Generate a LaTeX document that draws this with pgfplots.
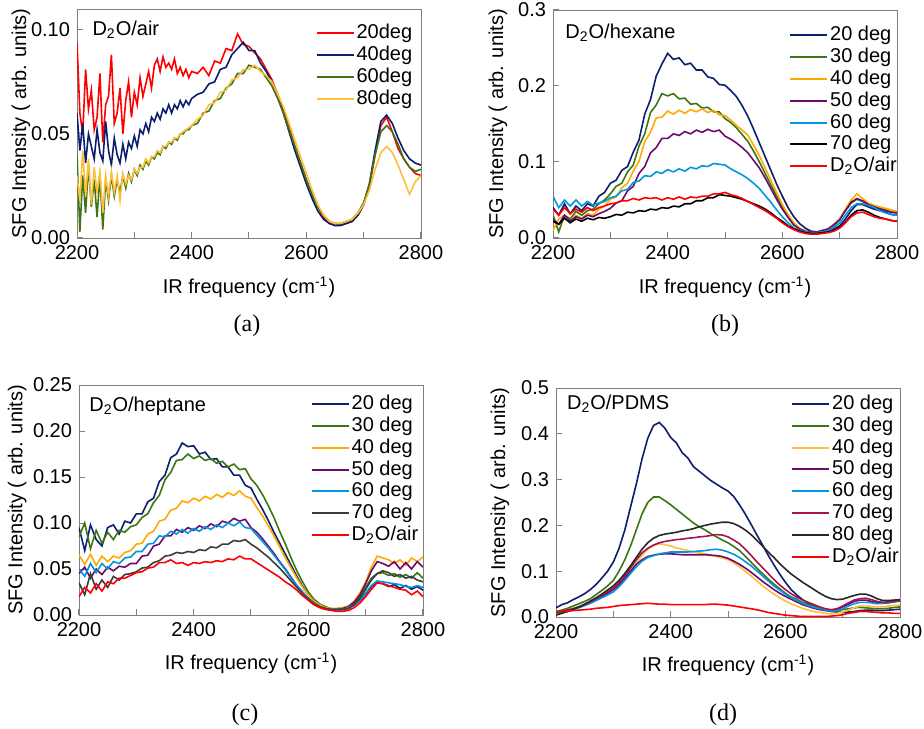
\documentclass[border=0pt]{standalone}
\usepackage{fontspec}
\setmainfont{Liberation Sans}
\newfontfamily\capfont{Liberation Serif}
\usepackage{pgfplots}
\usepackage{pgfplotstable}
\pgfplotsset{compat=1.18}

\definecolor{cRed}{RGB}{255,0,0}
\definecolor{cNavy}{RGB}{12,30,110}
\definecolor{cGreen}{RGB}{60,118,20}
\definecolor{cOrange}{RGB}{255,170,0}
\definecolor{cYellow}{RGB}{255,190,60}
\definecolor{cPurple}{RGB}{110,10,110}
\definecolor{cCyan}{RGB}{0,150,225}
\definecolor{cGray}{RGB}{60,60,60}
\definecolor{cCrimson}{RGB}{165,20,80}
\definecolor{cDark}{RGB}{40,40,40}

% D2O/air, four incidence angles
\pgfplotstableread{
f    a20    a40    a60    a80
2200 0.094  0.060  0.040  0.030
2205 0.060  0.042  0.003  0.018
2210 0.050  0.055  0.030  0.042
2215 0.081  0.036  0.012  0.020
2220 0.062  0.050  0.035  0.038
2225 0.071  0.044  0.015  0.016
2230 0.052  0.038  0.028  0.034
2235 0.058  0.052  0.010  0.022
2240 0.079  0.041  0.030  0.032
2245 0.046  0.037  0.004  0.012
2250 0.064  0.056  0.028  0.030
2255 0.068  0.042  0.018  0.020
2260 0.088  0.035  0.030  0.032
2265 0.055  0.048  0.020  0.022
2270 0.060  0.040  0.028  0.030
2275 0.072  0.036  0.022  0.018
2280 0.050  0.045  0.030  0.031
2285 0.066  0.038  0.024  0.026
2290 0.075  0.046  0.031  0.030
2295 0.058  0.043  0.027  0.028
2300 0.070  0.049  0.033  0.033
2305 0.064  0.044  0.030  0.031
2310 0.077  0.052  0.035  0.034
2315 0.068  0.050  0.033  0.034
2320 0.074  0.055  0.037  0.038
2325 0.080  0.051  0.035  0.036
2330 0.072  0.058  0.039  0.039
2335 0.083  0.056  0.038  0.039
2340 0.086  0.060  0.041  0.042
2345 0.080  0.057  0.040  0.041
2350 0.087  0.062  0.044  0.044
2355 0.082  0.060  0.043  0.044
2360 0.084  0.064  0.046  0.046
2365 0.081  0.060  0.045  0.046
2370 0.086  0.064  0.048  0.048
2375 0.079  0.062  0.047  0.048
2380 0.082  0.066  0.050  0.050
2385 0.078  0.063  0.050  0.051
2390 0.081  0.066  0.052  0.052
2395 0.077  0.064  0.052  0.053
2400 0.080  0.067  0.054  0.054
2410 0.079  0.069  0.055  0.057
2420 0.082  0.070  0.060  0.059
2430 0.078  0.074  0.061  0.064
2440 0.085  0.075  0.066  0.065
2450 0.084  0.081  0.067  0.070
2460 0.091  0.082  0.072  0.071
2470 0.090  0.088  0.074  0.076
2480 0.098  0.091  0.079  0.077
2490 0.093  0.094  0.079  0.081
2500 0.092  0.090  0.083  0.081
2510 0.089  0.090  0.082  0.083
2520 0.086  0.084  0.081  0.080
2530 0.081  0.080  0.077  0.078
2540 0.076  0.075  0.073  0.075
2550 0.069  0.068  0.067  0.069
2560 0.062  0.060  0.060  0.063
2570 0.053  0.051  0.052  0.055
2580 0.044  0.042  0.044  0.047
2590 0.036  0.034  0.036  0.039
2600 0.028  0.026  0.028  0.031
2610 0.021  0.019  0.021  0.023
2620 0.015  0.013  0.015  0.016
2630 0.010  0.009  0.011  0.011
2640 0.007  0.007  0.008  0.008
2650 0.006  0.006  0.007  0.007
2660 0.0065 0.006  0.007  0.007
2670 0.007  0.007  0.008  0.008
2680 0.008  0.008  0.009  0.009
2690 0.011  0.011  0.012  0.012
2700 0.016  0.016  0.017  0.016
2710 0.025  0.026  0.026  0.023
2720 0.040  0.042  0.040  0.033
2730 0.054  0.056  0.051  0.041
2740 0.058  0.059  0.054  0.044
2750 0.051  0.055  0.051  0.041
2760 0.043  0.048  0.045  0.035
2770 0.038  0.042  0.038  0.028
2780 0.034  0.038  0.034  0.021
2790 0.031  0.036  0.032  0.027
2800 0.030  0.035  0.033  0.030
}\tabA

% D2O/hexane
\pgfplotstableread{
f    b20   b30   b40   b50   b60   b70   bair
2200 0.040 0.030 0.010 0.025 0.055 0.022 0.038
2210 0.030 0.008 0.025 0.018 0.040 0.018 0.030
2220 0.045 0.030 0.030 0.030 0.050 0.026 0.040
2230 0.032 0.025 0.022 0.022 0.042 0.020 0.032
2240 0.042 0.035 0.030 0.028 0.050 0.025 0.038
2250 0.036 0.030 0.026 0.025 0.042 0.022 0.034
2260 0.045 0.036 0.032 0.030 0.048 0.026 0.040
2270 0.042 0.038 0.030 0.028 0.043 0.024 0.036
2280 0.055 0.045 0.038 0.032 0.046 0.027 0.040
2290 0.060 0.050 0.042 0.035 0.048 0.026 0.042
2300 0.072 0.058 0.051 0.039 0.053 0.028 0.045
2310 0.076 0.068 0.054 0.046 0.055 0.031 0.046
2320 0.089 0.072 0.066 0.049 0.062 0.030 0.049
2330 0.094 0.087 0.072 0.062 0.064 0.034 0.049
2340 0.113 0.096 0.088 0.068 0.073 0.033 0.052
2350 0.129 0.121 0.101 0.085 0.075 0.036 0.050
2360 0.163 0.137 0.127 0.094 0.082 0.035 0.053
2370 0.182 0.165 0.139 0.112 0.081 0.038 0.052
2380 0.213 0.175 0.158 0.119 0.087 0.037 0.053
2390 0.229 0.190 0.159 0.131 0.085 0.040 0.050
2400 0.243 0.187 0.167 0.131 0.090 0.039 0.053
2410 0.235 0.190 0.163 0.137 0.087 0.042 0.051
2420 0.237 0.183 0.168 0.135 0.091 0.041 0.054
2430 0.228 0.184 0.164 0.140 0.088 0.045 0.051
2440 0.230 0.176 0.169 0.137 0.093 0.045 0.054
2450 0.221 0.177 0.166 0.142 0.091 0.049 0.053
2460 0.221 0.171 0.170 0.139 0.095 0.049 0.055
2470 0.212 0.172 0.165 0.143 0.094 0.053 0.055
2480 0.210 0.166 0.168 0.140 0.098 0.053 0.058
2490 0.202 0.166 0.162 0.142 0.097 0.057 0.058
2500 0.201 0.157 0.161 0.134 0.096 0.056 0.060
2510 0.194 0.152 0.155 0.130 0.091 0.055 0.057
2520 0.186 0.145 0.148 0.125 0.087 0.053 0.055
2530 0.174 0.136 0.142 0.119 0.083 0.051 0.052
2540 0.160 0.127 0.135 0.112 0.078 0.048 0.048
2550 0.143 0.114 0.122 0.102 0.072 0.045 0.044
2560 0.125 0.100 0.108 0.092 0.065 0.042 0.040
2570 0.107 0.085 0.092 0.079 0.056 0.038 0.036
2580 0.089 0.070 0.076 0.065 0.047 0.033 0.031
2590 0.071 0.055 0.060 0.051 0.037 0.027 0.026
2600 0.055 0.040 0.044 0.038 0.028 0.022 0.020
2610 0.040 0.028 0.031 0.027 0.020 0.016 0.015
2620 0.028 0.018 0.020 0.017 0.013 0.012 0.011
2630 0.019 0.011 0.013 0.012 0.010 0.009 0.008
2640 0.013 0.007 0.009 0.009 0.008 0.007 0.006
2650 0.009 0.005 0.007 0.008 0.007 0.006 0.005
2660 0.008 0.006 0.007 0.008 0.007 0.006 0.005
2670 0.008 0.008 0.009 0.010 0.008 0.007 0.006
2680 0.010 0.012 0.012 0.012 0.010 0.008 0.007
2690 0.012 0.018 0.017 0.017 0.014 0.010 0.009
2700 0.016 0.025 0.025 0.024 0.020 0.014 0.013
2710 0.025 0.036 0.038 0.036 0.030 0.021 0.020
2720 0.036 0.046 0.050 0.047 0.040 0.030 0.028
2730 0.044 0.051 0.058 0.052 0.045 0.036 0.033
2740 0.044 0.048 0.052 0.049 0.045 0.037 0.034
2750 0.041 0.044 0.046 0.044 0.043 0.034 0.031
2760 0.038 0.041 0.043 0.041 0.040 0.030 0.028
2770 0.036 0.039 0.041 0.038 0.036 0.027 0.026
2780 0.034 0.037 0.039 0.036 0.033 0.025 0.025
2790 0.031 0.034 0.037 0.034 0.031 0.023 0.023
2800 0.030 0.033 0.035 0.033 0.030 0.022 0.022
}\tabB

% D2O/heptane
\pgfplotstableread{
f    c20   c30   c40   c50   c60   c70   cair
2200 0.095 0.085 0.065 0.045 0.050 0.035 0.020
2210 0.070 0.100 0.055 0.052 0.042 0.022 0.030
2220 0.098 0.072 0.066 0.040 0.056 0.045 0.024
2230 0.082 0.092 0.054 0.050 0.046 0.028 0.034
2240 0.075 0.078 0.064 0.044 0.056 0.038 0.026
2250 0.095 0.090 0.058 0.052 0.050 0.030 0.036
2260 0.098 0.082 0.064 0.048 0.058 0.042 0.034
2270 0.088 0.092 0.062 0.053 0.056 0.038 0.040
2280 0.102 0.090 0.068 0.052 0.062 0.044 0.040
2290 0.100 0.096 0.070 0.056 0.063 0.045 0.043
2300 0.110 0.098 0.077 0.056 0.069 0.047 0.046
2310 0.110 0.106 0.078 0.064 0.069 0.051 0.047
2320 0.123 0.110 0.088 0.065 0.077 0.052 0.051
2330 0.127 0.122 0.091 0.075 0.078 0.057 0.052
2340 0.145 0.130 0.102 0.077 0.086 0.059 0.057
2350 0.152 0.147 0.104 0.086 0.085 0.064 0.057
2360 0.171 0.155 0.114 0.086 0.091 0.065 0.060
2370 0.175 0.168 0.116 0.093 0.088 0.068 0.056
2380 0.187 0.169 0.124 0.090 0.093 0.067 0.057
2390 0.183 0.175 0.122 0.095 0.089 0.069 0.054
2400 0.184 0.170 0.127 0.092 0.094 0.068 0.057
2410 0.175 0.173 0.124 0.097 0.091 0.071 0.056
2420 0.177 0.168 0.129 0.094 0.096 0.070 0.058
2430 0.169 0.170 0.126 0.099 0.093 0.074 0.057
2440 0.170 0.165 0.131 0.096 0.098 0.073 0.059
2450 0.161 0.167 0.128 0.102 0.095 0.077 0.058
2460 0.161 0.161 0.133 0.100 0.100 0.077 0.061
2470 0.152 0.164 0.130 0.105 0.097 0.081 0.060
2480 0.152 0.158 0.135 0.102 0.101 0.080 0.064
2490 0.141 0.159 0.129 0.104 0.095 0.082 0.061
2500 0.138 0.148 0.127 0.095 0.094 0.077 0.061
2510 0.126 0.141 0.117 0.090 0.087 0.073 0.057
2520 0.115 0.131 0.108 0.083 0.080 0.068 0.053
2530 0.103 0.119 0.097 0.075 0.073 0.063 0.049
2540 0.090 0.106 0.086 0.067 0.065 0.057 0.045
2550 0.078 0.091 0.074 0.058 0.057 0.051 0.041
2560 0.066 0.077 0.062 0.050 0.049 0.044 0.036
2570 0.054 0.062 0.051 0.041 0.040 0.037 0.032
2580 0.042 0.048 0.040 0.032 0.032 0.030 0.027
2590 0.031 0.036 0.030 0.025 0.025 0.023 0.021
2600 0.022 0.025 0.022 0.018 0.018 0.017 0.016
2610 0.015 0.017 0.015 0.013 0.013 0.012 0.011
2620 0.010 0.012 0.011 0.009 0.009 0.009 0.008
2630 0.007 0.009 0.008 0.007 0.007 0.007 0.006
2640 0.006 0.007 0.007 0.006 0.006 0.006 0.005
2650 0.006 0.007 0.007 0.006 0.006 0.006 0.004
2660 0.006 0.008 0.008 0.007 0.006 0.006 0.004
2670 0.008 0.009 0.010 0.009 0.008 0.007 0.005
2680 0.011 0.013 0.015 0.014 0.011 0.011 0.008
2690 0.016 0.020 0.024 0.022 0.016 0.018 0.013
2700 0.023 0.030 0.036 0.034 0.024 0.028 0.020
2710 0.031 0.040 0.052 0.048 0.032 0.038 0.028
2720 0.035 0.045 0.064 0.058 0.037 0.045 0.035
2730 0.034 0.046 0.062 0.056 0.036 0.048 0.034
2740 0.031 0.043 0.060 0.053 0.035 0.046 0.032
2750 0.033 0.045 0.056 0.058 0.034 0.042 0.030
2760 0.029 0.041 0.060 0.050 0.033 0.044 0.028
2770 0.032 0.044 0.054 0.057 0.031 0.040 0.027
2780 0.028 0.040 0.062 0.050 0.030 0.042 0.022
2790 0.031 0.046 0.058 0.058 0.032 0.038 0.026
2800 0.027 0.040 0.063 0.052 0.030 0.036 0.020
}\tabC

% D2O/PDMS
\pgfplotstableread{
f    d20   d30   d40   d50   d60   d70   d80   dair
2200 0.020 0.012 0.010 0.010 0.008 0.010 0.004 0.010
2210 0.027 0.015 0.012 0.012 0.010 0.012 0.008 0.012
2220 0.031 0.019 0.015 0.015 0.012 0.015 0.012 0.013
2230 0.038 0.024 0.018 0.018 0.016 0.018 0.017 0.014
2240 0.044 0.029 0.022 0.022 0.020 0.022 0.022 0.015
2250 0.051 0.034 0.027 0.027 0.025 0.027 0.028 0.016
2260 0.060 0.040 0.032 0.032 0.030 0.033 0.035 0.017
2270 0.071 0.049 0.038 0.038 0.036 0.040 0.042 0.019
2280 0.085 0.058 0.045 0.045 0.042 0.047 0.050 0.020
2290 0.100 0.068 0.052 0.052 0.048 0.055 0.059 0.021
2300 0.120 0.080 0.060 0.060 0.055 0.063 0.068 0.023
2310 0.150 0.100 0.071 0.071 0.066 0.075 0.080 0.025
2320 0.190 0.125 0.085 0.085 0.080 0.090 0.095 0.026
2330 0.240 0.155 0.100 0.100 0.095 0.107 0.112 0.027
2340 0.290 0.190 0.118 0.115 0.110 0.125 0.130 0.028
2350 0.345 0.225 0.135 0.125 0.122 0.140 0.148 0.029
2360 0.390 0.250 0.148 0.132 0.130 0.150 0.162 0.030
2370 0.418 0.262 0.156 0.135 0.134 0.157 0.172 0.029
2380 0.425 0.262 0.160 0.137 0.138 0.162 0.178 0.028
2390 0.412 0.254 0.158 0.138 0.140 0.165 0.181 0.028
2400 0.392 0.245 0.155 0.138 0.142 0.167 0.183 0.027
2410 0.380 0.235 0.151 0.137 0.142 0.169 0.185 0.027
2420 0.359 0.225 0.148 0.136 0.142 0.170 0.188 0.027
2430 0.347 0.215 0.145 0.136 0.142 0.172 0.190 0.027
2440 0.328 0.205 0.142 0.136 0.143 0.173 0.193 0.027
2450 0.318 0.197 0.140 0.136 0.144 0.175 0.197 0.027
2460 0.308 0.190 0.138 0.136 0.145 0.176 0.200 0.027
2470 0.298 0.182 0.135 0.135 0.147 0.178 0.203 0.028
2480 0.290 0.175 0.132 0.134 0.148 0.180 0.205 0.028
2490 0.282 0.168 0.129 0.132 0.146 0.179 0.207 0.027
2500 0.275 0.162 0.125 0.128 0.142 0.175 0.207 0.026
2510 0.263 0.154 0.118 0.122 0.137 0.168 0.204 0.024
2520 0.245 0.145 0.110 0.115 0.130 0.160 0.198 0.022
2530 0.225 0.133 0.100 0.107 0.121 0.148 0.190 0.020
2540 0.203 0.120 0.090 0.098 0.112 0.135 0.180 0.018
2550 0.180 0.107 0.079 0.088 0.101 0.121 0.168 0.016
2560 0.158 0.095 0.068 0.078 0.090 0.108 0.155 0.013
2570 0.135 0.083 0.059 0.069 0.079 0.095 0.142 0.010
2580 0.114 0.072 0.050 0.060 0.068 0.082 0.130 0.008
2590 0.094 0.062 0.042 0.052 0.059 0.070 0.117 0.006
2600 0.076 0.052 0.035 0.045 0.050 0.060 0.105 0.004
2610 0.060 0.044 0.029 0.039 0.042 0.051 0.094 0.003
2620 0.048 0.038 0.024 0.033 0.036 0.043 0.085 0.002
2630 0.038 0.032 0.019 0.027 0.030 0.037 0.076 0.001
2640 0.030 0.027 0.015 0.023 0.025 0.032 0.068 0.001
2650 0.024 0.023 0.012 0.019 0.021 0.027 0.060 0.001
2660 0.019 0.019 0.010 0.016 0.018 0.022 0.052 0.001
2670 0.015 0.016 0.008 0.014 0.015 0.018 0.045 0.001
2680 0.012 0.014 0.007 0.013 0.013 0.016 0.040 0.002
2690 0.011 0.014 0.008 0.016 0.014 0.018 0.038 0.003
2700 0.010 0.016 0.011 0.022 0.018 0.024 0.039 0.005
2710 0.011 0.018 0.015 0.028 0.024 0.031 0.043 0.008
2720 0.012 0.020 0.020 0.034 0.029 0.037 0.047 0.010
2730 0.014 0.021 0.024 0.037 0.032 0.040 0.050 0.012
2740 0.015 0.020 0.025 0.037 0.032 0.041 0.050 0.012
2750 0.015 0.019 0.023 0.034 0.031 0.038 0.046 0.011
2760 0.014 0.018 0.022 0.031 0.029 0.034 0.040 0.010
2770 0.014 0.018 0.022 0.030 0.030 0.032 0.036 0.009
2780 0.015 0.019 0.024 0.031 0.032 0.033 0.036 0.009
2790 0.016 0.021 0.025 0.033 0.034 0.035 0.037 0.008
2800 0.017 0.022 0.026 0.035 0.036 0.036 0.038 0.008
}\tabD

\pgfplotsset{
  sfg/.style={
    scale only axis, width=172pt, height=114.5pt,
    xmin=2200, xmax=2800, ymin=0,
    xtick={2200,2400,2600,2800}, minor xtick={2300,2500,2700},
    tick pos=left, tick align=inside,
    axis line style={draw=black!50},
    every tick/.style={draw=black!50, line width=0.5pt},
    major tick length=3pt, minor tick length=3pt,
    scaled y ticks=false,
    /pgf/number format/assume math mode=true,
    /pgf/number format/1000 sep={},
    ticklabel style={font=\fontsize{10}{12}\selectfont},
    label style={font=\fontsize{10}{12}\selectfont},
    xlabel={IR frequency (cm\textsuperscript{-1})},
    ylabel={SFG Intensity ( arb. units)},
    xlabel style={at={(axis description cs:0.5,0)}, anchor=center, yshift=-24.5pt},
    every axis plot/.append style={line width=0.8pt},
    no markers,
    legend cell align=left,
    legend image code/.code={\draw[#1, line width=1pt] (0pt,0pt) -- (18.5pt,0pt);},
    legend style={draw=none, fill=none, anchor=north west,
      font=\fontsize{10}{12}\selectfont, row sep=0pt, column sep=0.5pt,
      nodes={inner sep=0.5pt, text height=7.7pt, text depth=2.2pt}},
  },
  yfmt/.style={yticklabel style={/pgf/number format/.cd, fixed, fixed zerofill, precision=#1}},
  ylab/.style={ylabel style={at={(axis description cs:#1,0.5)}, anchor=center}},
}
\tikzset{
  paneltag/.style={anchor=base west, inner sep=0pt, font=\fontsize{10}{12}\selectfont},
  subcap/.style={font=\capfont\fontsize{12}{14}\selectfont},
}

\begin{document}
\begin{tikzpicture}
\path[use as bounding box] (0,0) rectangle (462pt,364pt);

% (a) D2O/air
\begin{axis}[sfg, yfmt=2, ylab=-0.163, at={(38.5pt,245pt)}, anchor=south west,
  ymax=0.11, ytick={0,0.05,0.10},
  legend style={at={(rel axis cs:0.675,0.96)}}]
\addplot[cRed]    table[x=f, y=a20] {\tabA}; \addlegendentry{20deg}
\addplot[cNavy]   table[x=f, y=a40] {\tabA}; \addlegendentry{40deg}
\addplot[cGreen]  table[x=f, y=a60] {\tabA}; \addlegendentry{60deg}
\addplot[cYellow] table[x=f, y=a80] {\tabA}; \addlegendentry{80deg}
\node[paneltag] at (rel axis cs:0.044,0.886) {D\textsubscript{2}O/air};
\end{axis}

% (b) D2O/hexane
\begin{axis}[sfg, yfmt=1, ylab=-0.16, at={(276.5pt,245pt)}, anchor=south west, height=114pt,
  ymax=0.3, ytick={0,0.1,0.2,0.3},
  legend style={at={(rel axis cs:0.668,0.956)}}]
\addplot[cNavy]   table[x=f, y=b20] {\tabB}; \addlegendentry{20 deg}
\addplot[cGreen]  table[x=f, y=b30] {\tabB}; \addlegendentry{30 deg}
\addplot[cOrange] table[x=f, y=b40] {\tabB}; \addlegendentry{40 deg}
\addplot[cPurple] table[x=f, y=b50] {\tabB}; \addlegendentry{50 deg}
\addplot[cCyan]   table[x=f, y=b60] {\tabB}; \addlegendentry{60 deg}
\addplot[black]   table[x=f, y=b70] {\tabB}; \addlegendentry{70 deg}
\addplot[cRed]    table[x=f, y=bair] {\tabB}; \addlegendentry{D\textsubscript{2}O/air}
\node[paneltag] at (rel axis cs:0.035,0.877) {D\textsubscript{2}O/hexane};
\end{axis}

% (c) D2O/heptane
\begin{axis}[sfg, yfmt=2, ylab=-0.18, at={(39.5pt,56.5pt)}, anchor=south west, height=115pt,
  ymax=0.25, ytick={0,0.05,0.10,0.15,0.20,0.25},
  xlabel style={yshift=0.5pt},
  legend style={at={(rel axis cs:0.655,0.983)}}]
\addplot[cNavy]   table[x=f, y=c20] {\tabC}; \addlegendentry{20 deg}
\addplot[cGreen]  table[x=f, y=c30] {\tabC}; \addlegendentry{30 deg}
\addplot[cOrange] table[x=f, y=c40] {\tabC}; \addlegendentry{40 deg}
\addplot[cPurple] table[x=f, y=c50] {\tabC}; \addlegendentry{50 deg}
\addplot[cCyan]   table[x=f, y=c60] {\tabC}; \addlegendentry{60 deg}
\addplot[cGray]   table[x=f, y=c70] {\tabC}; \addlegendentry{70 deg}
\addplot[cRed]    table[x=f, y=cair] {\tabC}; \addlegendentry{D\textsubscript{2}O/air}
\node[paneltag] at (rel axis cs:0.029,0.884) {D\textsubscript{2}O/heptane};
\end{axis}

% (d) D2O/PDMS
\begin{axis}[sfg, yfmt=1, ylab=-0.163, at={(278pt,55.5pt)}, anchor=south west,
  ymax=0.5, ytick={0,0.1,0.2,0.3,0.4,0.5},
  xlabel style={yshift=0.5pt},
  legend style={at={(rel axis cs:0.665,0.997)}}]
\addplot[cNavy]    table[x=f, y=d20] {\tabD}; \addlegendentry{20 deg}
\addplot[cGreen]   table[x=f, y=d30] {\tabD}; \addlegendentry{30 deg}
\addplot[cYellow]  table[x=f, y=d40] {\tabD}; \addlegendentry{40 deg}
\addplot[cPurple]  table[x=f, y=d50] {\tabD}; \addlegendentry{50 deg}
\addplot[cCyan]    table[x=f, y=d60] {\tabD}; \addlegendentry{60 deg}
\addplot[cCrimson] table[x=f, y=d70] {\tabD}; \addlegendentry{70 deg}
\addplot[cDark]    table[x=f, y=d80] {\tabD}; \addlegendentry{80 deg}
\addplot[cRed]     table[x=f, y=dair] {\tabD}; \addlegendentry{D\textsubscript{2}O/air}
\node[paneltag] at (rel axis cs:0.031,0.904) {D\textsubscript{2}O/PDMS};
\end{axis}

% sub-figure captions
\node[subcap] at (123.5pt,201pt) {(a)};
\node[subcap] at (362.5pt,201pt) {(b)};
\node[subcap] at (122.5pt,6.5pt) {(c)};
\node[subcap] at (361.5pt,6.5pt) {(d)};
\end{tikzpicture}
\end{document}
